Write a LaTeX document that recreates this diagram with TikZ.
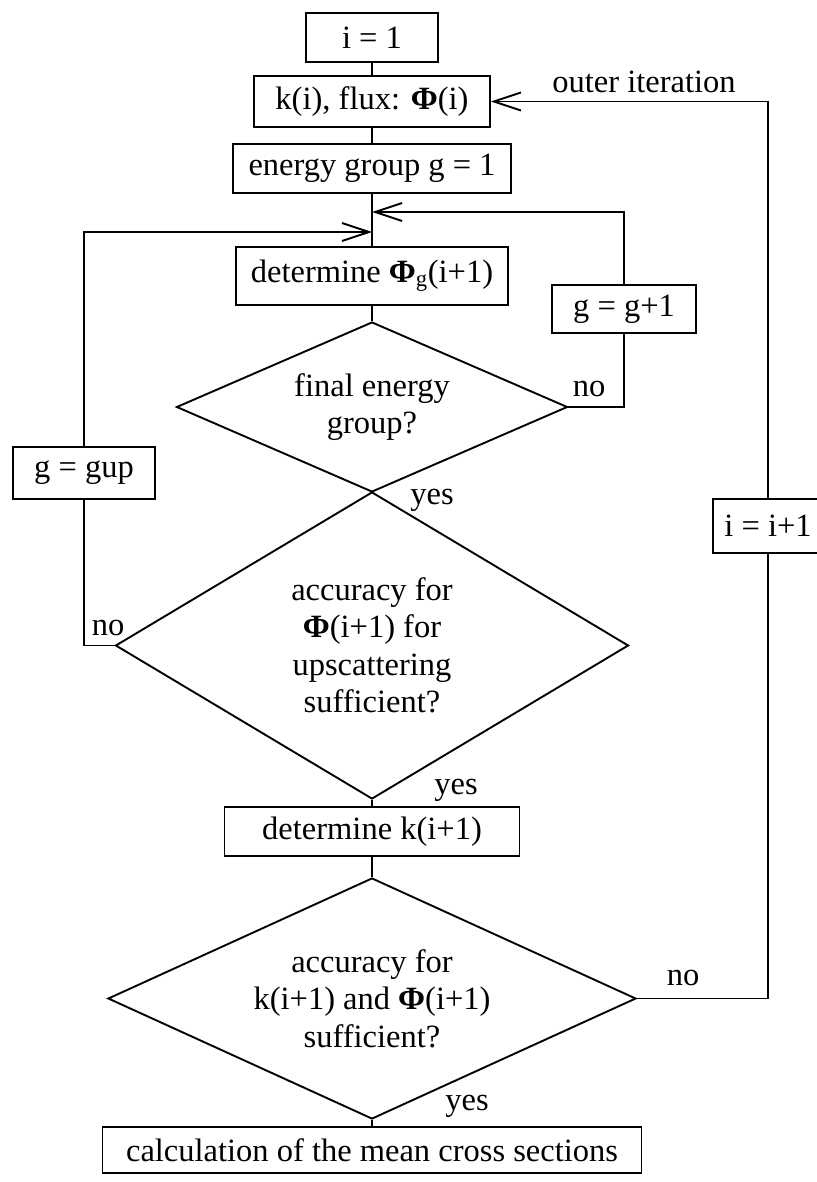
\documentclass[tikz,border=0pt]{standalone}
\usepackage{fontspec}
\setmainfont{Liberation Serif}
\usetikzlibrary{shapes.geometric,arrows.meta}
\tikzset{
  every node/.style={font=\fontsize{32.5}{37.5}\selectfont},
  box/.style={draw, line width=1.9pt, inner sep=0pt, align=center, rectangle},
  dia/.style={draw, line width=1.9pt, inner sep=0pt, align=center, diamond},
  conn/.style={line width=1.9pt},
  arr/.style={line width=1.9pt, -{Straight Barb[length=27pt,width=18pt,line width=1.9pt]}},
  lbl/.style={inner sep=0pt}
}
\begin{document}
\begin{tikzpicture}[x=1pt,y=-1pt]
\useasboundingbox (0,0) rectangle (816,1182);
% nodes
\node[box, minimum width=132pt, minimum height=49pt] (i1) at (372,37.5) {i = 1};
\node[box, minimum width=236pt, minimum height=51pt] (ki) at (372,101.5) {k(i), flux: \textbf{Φ}(i)};
\node[box, minimum width=278pt, minimum height=49pt] (eg) at (372,168.5) {energy group g = 1};
\node[box, minimum width=272pt, minimum height=58pt] (dp) at (372,276) {determine \textbf{Φ}\textsubscript{g}(i+1)};
\node[box, minimum width=144pt, minimum height=48pt] (gp1) at (624,309) {g = g+1};
\node[dia, minimum width=391pt, minimum height=170pt, shape aspect=2.3] (d1) at (372,407) {final energy\\group?};
\node[box, minimum width=142pt, minimum height=52pt] (gup) at (84,473) {g = gup};
\node[dia, minimum width=513pt, minimum height=307pt, shape aspect=1.67] (d2) at (372,645.5) {accuracy for\\\textbf{Φ}(i+1) for\\upscattering\\sufficient?};
\node[box, minimum width=295pt, minimum height=49pt] (dk) at (372,831.5) {determine k(i+1)};
\node[dia, minimum width=528pt, minimum height=241pt, shape aspect=2.19] (d3) at (372,998.5) {accuracy for\\k(i+1) and \textbf{Φ}(i+1)\\sufficient?};
\node[box, minimum width=110pt, minimum height=54pt] (ii) at (768,526) {i = i+1};
\node[box, minimum width=539pt, minimum height=46pt] (fin) at (372,1150) {calculation of the mean cross sections};
% labels
\node[lbl] (lout) at (644,82) {outer iteration};
\node[lbl] (no1) at (589,389) {no};
\node[lbl] (yes1) at (432,500) {yes};
\node[lbl] (no2) at (108,628) {no};
\node[lbl] (yes2) at (456,790) {yes};
\node[lbl] (no3) at (683,978) {no};
\node[lbl] (yes3) at (467,1106) {yes};
% merge points
\coordinate (m1) at (372,212);
\coordinate (m2) at (372,232);
% connectors
\draw[conn] (i1.south) -- (ki.north);
\draw[conn] (ki.south) -- (eg.north);
\draw[conn] (eg.south) -- (dp.north);
\draw[conn] (dp.south) -- (d1.north);
\draw[conn] (d1.east) -| (gp1.south);
\draw[arr] (gp1.north) |- (m1);
\draw[conn] (d2.west) -| (gup.south);
\draw[arr] (gup.north) |- (m2);
\draw[conn] (d2.south) -- (dk.north);
\draw[conn] (dk.south) -- (d3.north);
\draw[conn] (d3.south) -- (fin.north);
\draw[conn] (d3.east) -| (ii.south);
\draw[arr] (ii.north) |- (ki.east);
\end{tikzpicture}
\end{document}
